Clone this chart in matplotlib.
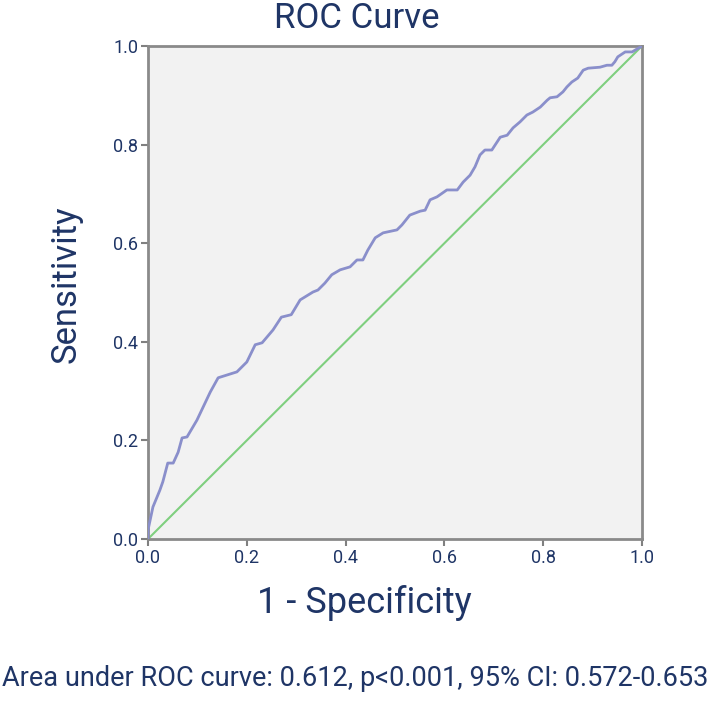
import matplotlib.pyplot as plt
import numpy as np

# ROC curve points (1 - specificity, sensitivity)
fpr = [0.0, 0.0, 0.010, 0.024, 0.030, 0.040, 0.051, 0.061, 0.069, 0.079, 0.099,
       0.126, 0.142, 0.180, 0.200, 0.217, 0.231, 0.253, 0.270, 0.290, 0.308,
       0.334, 0.344, 0.358, 0.372, 0.389, 0.409, 0.423, 0.435, 0.445, 0.460,
       0.476, 0.504, 0.514, 0.530, 0.551, 0.561, 0.571, 0.585, 0.605, 0.626,
       0.638, 0.652, 0.662, 0.672, 0.682, 0.696, 0.713, 0.727, 0.739, 0.753,
       0.767, 0.779, 0.794, 0.808, 0.814, 0.828, 0.840, 0.848, 0.858, 0.870,
       0.881, 0.891, 0.915, 0.929, 0.939, 0.945, 0.951, 0.966, 0.980, 1.0]
tpr = [0.0, 0.018, 0.065, 0.099, 0.116, 0.154, 0.154, 0.176, 0.205, 0.207, 0.241,
       0.298, 0.327, 0.339, 0.359, 0.394, 0.398, 0.424, 0.450, 0.455, 0.485,
       0.501, 0.505, 0.519, 0.536, 0.546, 0.552, 0.566, 0.566, 0.586, 0.611,
       0.621, 0.627, 0.637, 0.657, 0.665, 0.667, 0.688, 0.694, 0.708, 0.708,
       0.724, 0.738, 0.755, 0.779, 0.789, 0.789, 0.815, 0.819, 0.834, 0.846,
       0.860, 0.866, 0.876, 0.890, 0.895, 0.897, 0.907, 0.917, 0.927, 0.935,
       0.951, 0.955, 0.957, 0.961, 0.961, 0.968, 0.978, 0.988, 0.988, 1.0]
ref_line = [0.0, 1.0]
ticks = [0.0, 0.2, 0.4, 0.6, 0.8, 1.0]

title = "ROC Curve"
xlabel = "1 - Specificity"
ylabel = "Sensitivity"
note = "Area under ROC curve: 0.612, p<0.001, 95% CI: 0.572-0.653"

navy = "#1f3566"
plt.rcParams["font.family"] = ["Roboto", "DejaVu Sans"]

fig = plt.figure(figsize=(7.11, 7.02), dpi=100)
ax = fig.add_axes([148 / 711, 1 - 539 / 702, 494 / 711, 493 / 702])
ax.set_facecolor("#f2f2f2")

ax.plot(ref_line, ref_line, color="#7fcf7f", lw=1.5, zorder=2)
ax.plot(fpr, tpr, color="#8a8fcb", lw=2.0, zorder=3)

ax.set_xlim(0, 1)
ax.set_ylim(0, 1)
ax.set_xticks(ticks)
ax.set_yticks(ticks)
ax.set_xticklabels([f"{t:.1f}" for t in ticks])
ax.set_yticklabels([f"{t:.1f}" for t in ticks])
ax.tick_params(colors="#808080", labelcolor=navy, labelsize=13, width=1.5, length=5, pad=2)
for s in ax.spines.values():
    s.set_color("#8a8a8a")
    s.set_linewidth(2)

fig.text(357 / 711, 1 - 18 / 702, title, ha="center", va="center",
         fontsize=25, color=navy)
fig.text(364 / 711, 1 - 603 / 702, xlabel, ha="center", va="center",
         fontsize=26, color=navy)
fig.text(66 / 711, 1 - 284 / 702, ylabel, ha="center", va="center", rotation=90,
         fontsize=25, color=navy)
fig.text(355 / 711, 1 - 678 / 702, note, ha="center", va="center",
         fontsize=19.5, color=navy)

fig.savefig("out.png", dpi=100)
